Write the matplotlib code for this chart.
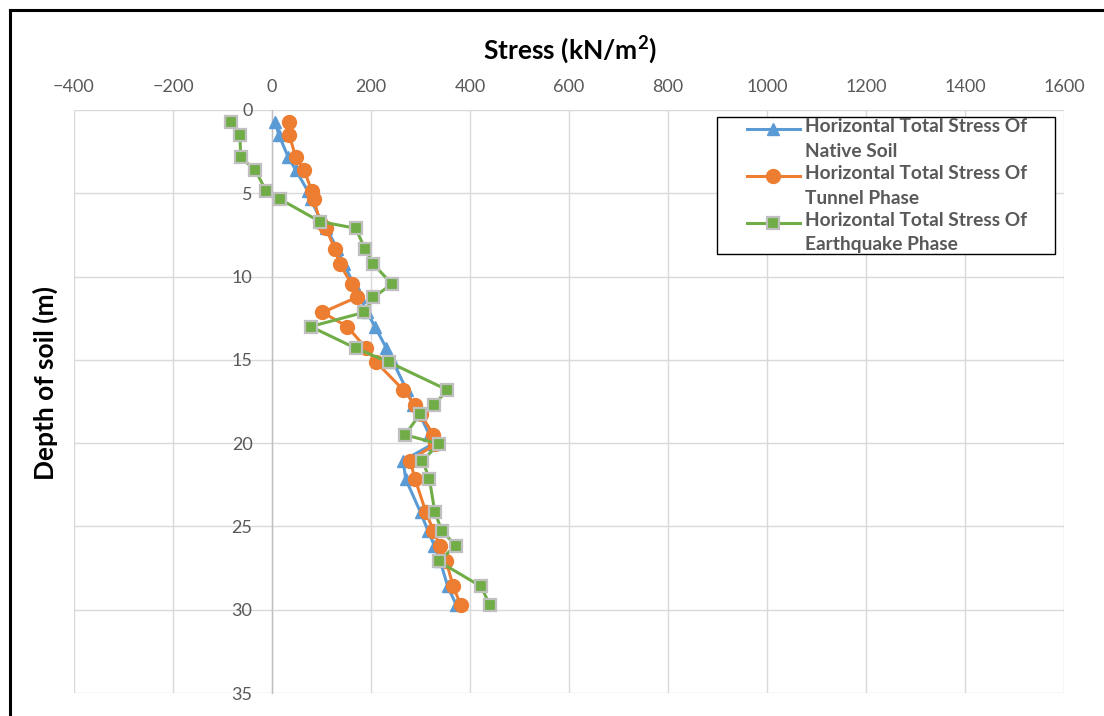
import matplotlib
matplotlib.use("Agg")
import matplotlib.pyplot as plt
from matplotlib.lines import Line2D
from matplotlib.patches import Rectangle
from matplotlib.transforms import Affine2D

depth = [0.7, 1.5, 2.85, 3.6, 4.85, 5.35, 6.7, 7.1, 8.35, 9.25, 10.45, 11.25, 12.15, 13.0,
         14.3, 15.15, 16.8, 17.7, 18.25, 19.5, 20.05, 21.05, 22.15, 24.15, 25.25, 26.15,
         27.1, 28.6, 29.7]
native_soil = [6, 14, 33, 48, 72, 78, 100, 110, 132, 145, 165, 178, 192, 208, 231, 245,
               272, 285, 298, 318, 325, 265, 270, 300, 315, 328, 340, 355, 372]
tunnel_phase = [34, 35, 48, 65, 80, 84, 97, 109, 127, 137, 161, 171, 102, 152, 190, 211,
                265, 289, 300, 326, 330, 279, 289, 311, 326, 339, 352, 366, 381]
earthquake_phase = [-83, -65, -63, -34, -12, 16, 97, 169, 188, 205, 242, 205, 186, 78, 169,
                    237, 354, 328, 299, 269, 337, 304, 318, 329, 343, 371, 337, 422, 440]

labels = ["Horizontal Total Stress Of\nNative Soil",
          "Horizontal Total Stress Of\nTunnel Phase",
          "Horizontal Total Stress Of\nEarthquake Phase"]
x_ticks = [-400, -200, 0, 200, 400, 600, 800, 1000, 1200, 1400, 1600]
y_ticks = [0, 5, 10, 15, 20, 25, 30, 35]

plt.rcParams['font.family'] = ['Lato', 'DejaVu Sans']

fig = plt.figure(figsize=(11.04, 7.16), dpi=100)
ax = fig.add_axes([74/1104, 1-693/716, (1064-74)/1104, (693-110)/716])

blue, orange, green = '#5B9BD5', '#ED7D31', '#70AD47'
ax.plot(native_soil, depth, color=blue, lw=2.2, marker='^', ms=9, mec=blue, mfc=blue,
        label=labels[0], zorder=3)
ax.plot(tunnel_phase, depth, color=orange, lw=2.2, marker='o', ms=10, mec=orange, mfc=orange,
        label=labels[1], zorder=4)
ax.plot(earthquake_phase, depth, color=green, lw=2.2, marker='s', ms=8.5, mec='#BFBFBF',
        mew=1.6, mfc=green, label=labels[2], zorder=5)

ax.set_xlim(-400, 1600)
ax.set_ylim(35, 0)
ax.set_xticks(x_ticks)
ax.set_yticks(y_ticks)
ax.xaxis.tick_top()
ax.grid(True, color='#D9D9D9', lw=1)
ax.set_axisbelow(True)
for s in ['top', 'right', 'bottom']:
    ax.spines[s].set_visible(False)
ax.spines['left'].set_position(('data', 0))
ax.spines['left'].set_color('#BFBFBF')
ax.spines['left'].set_linewidth(1)
ax.tick_params(axis='both', length=0, labelsize=13, labelcolor='#595959')
ax.tick_params(axis='x', pad=11)
ax.tick_params(axis='y', pad=14)

fig.text(570/1104, 1-50/716, "Stress (kN/m$^\\mathregular{2}$)", ha='center', va='center',
         fontsize=19, fontweight='bold', color='black')
fig.text(45/1104, 1-383/716, "Depth of soil (m)", ha='center', va='center', rotation=90,
         fontsize=19, fontweight='bold', color='black')

# legend box drawn separately (wide horizontal padding like the original)
ax.add_patch(Rectangle((717/1104, 1-254/716), (1055-717)/1104, (254-117)/716,
                       transform=fig.transFigure, facecolor='white', edgecolor='black',
                       lw=1.0, zorder=6))
leg = ax.legend(loc='upper left', bbox_to_anchor=(747/1104, 1-118/716),
                bbox_transform=fig.transFigure, borderaxespad=0, frameon=False,
                handlelength=2.75, labelspacing=0.27, prop={'weight': 'bold', 'size': 13.8},
                borderpad=0, handletextpad=0.3)
leg.set_zorder(7)
for t in leg.get_texts():
    t.set_color('#595959')
    t.set_linespacing(1.55)
# align each legend handle with the first line of its label
for h in leg.legend_handles:
    h.set_transform(h.get_transform() + Affine2D().translate(0, 10))

# outer chart border
fig.add_artist(Line2D([10/1104, 10/1104], [0, 1-10/716], transform=fig.transFigure,
                      color='black', lw=2.2))
fig.add_artist(Line2D([10/1104, 1], [1-10/716, 1-10/716], transform=fig.transFigure,
                      color='black', lw=2.2))

fig.savefig("out.png", dpi=100)
